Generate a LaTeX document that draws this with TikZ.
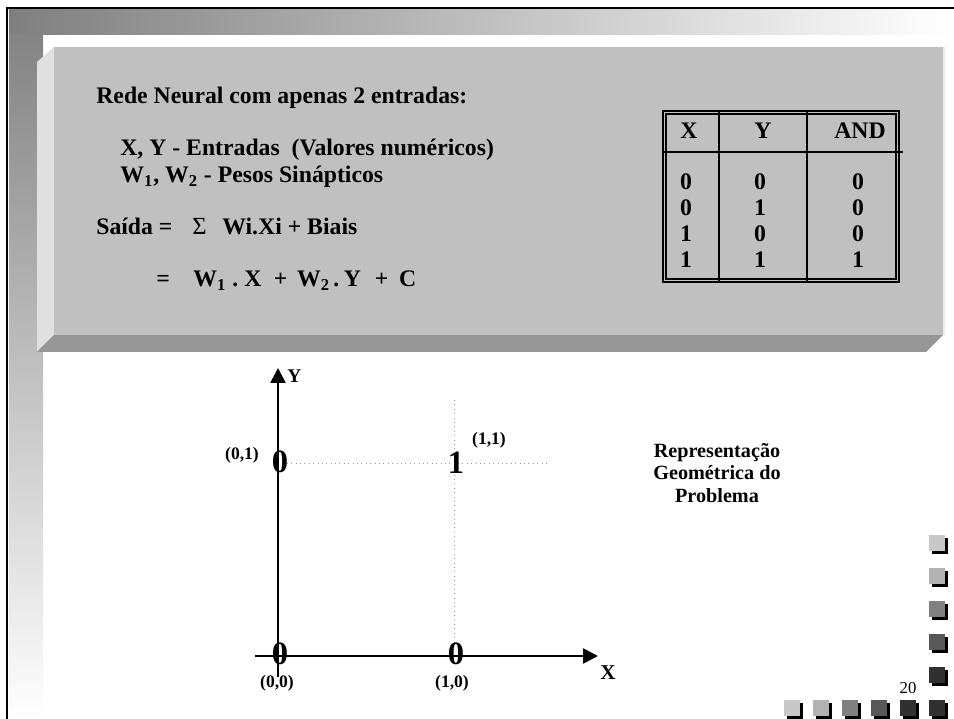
\documentclass[tikz,border=0pt]{standalone}
\usepackage{fontspec}
\setmainfont{Liberation Serif}
\usepackage{tikz}
\usetikzlibrary{arrows.meta,shadows}
\definecolor{facegray}{HTML}{C0C0C0}
\definecolor{bevellight}{HTML}{E0E0E0}
\definecolor{beveldark}{HTML}{969696}
\definecolor{bandgray}{HTML}{7F7F7F}
\definecolor{dotgray}{HTML}{9A9A9A}
\definecolor{tileA}{HTML}{C8C8C8}
\definecolor{tileB}{HTML}{B2B2B2}
\definecolor{tileC}{HTML}{808080}
\definecolor{tileD}{HTML}{585858}
\definecolor{tileE}{HTML}{303030}

\begin{document}
\begin{tikzpicture}[x=0.02cm,y=-0.02cm,
  txt/.style={font=\fontsize{13.5}{15}\selectfont\bfseries,inner sep=0pt,anchor=base west},
  tab/.style={font=\fontsize{13.5}{15}\selectfont\bfseries,inner sep=0pt,anchor=base},
  coordlbl/.style={font=\fontsize{10}{12}\selectfont\bfseries,inner sep=0pt,anchor=base},
  bigdigit/.style={font=\fontsize{18.5}{20}\selectfont\bfseries,inner sep=0pt,anchor=base},
  axisline/.style={line width=1.5pt,-{Triangle[length=8.5pt,width=8.5pt]}},
  guide/.style={dotgray,dotted,line width=0.5pt},
  tile/.style={fill=#1,inner sep=0pt,minimum size=9pt,
    general shadow={fill=black,shadow xshift=1.7pt,shadow yshift=-1.7pt}}]
  \useasboundingbox (0,0) rectangle (954,719);
  \fill[white] (0,0) rectangle (954,719);
  \shade[top color=bandgray,bottom color=white] (9,10) rectangle (43,719);
  \shade[left color=bandgray,right color=white] (9,10) rectangle (954,35);
  \draw[line width=1.1pt] (7,719) -- (7,8) -- (954,8);

  \fill[bevellight] (37,62) -- (54,47) -- (54,335) -- (37,352) -- cycle;
  \fill[beveldark] (37,352) -- (54,335) -- (943,335) -- (926,352) -- cycle;
  \fill[facegray] (54,47) rectangle (943,335);
  \draw[white!92!black,line width=1pt] (944,47) -- (944,335);

  \node[txt] (title) at (96,104) {Rede Neural com apenas 2 entradas:};
  \node[txt] (inputs) at (120,156) {X, Y - Entradas\ \ (Valores numéricos)};
  \node[txt] (weights) at (120,183) {W\textsubscript{1}, W\textsubscript{2} - Pesos Sinápticos};
  \node[txt] (saida) at (96,235) {Saída =};
  \node[txt,font=\fontsize{14}{15}\selectfont] (sigma) at (192,235) {Σ};
  \node[txt] (sum) at (222,235) {Wi.Xi + Biais};
  \node[txt] (eq) at (156,287) {=};
  \node[txt] (expr) at (193,287) {W\textsubscript{1}\hspace{3.5pt}.\hspace{3.5pt}X\hspace{7pt}+\hspace{5.5pt}W\textsubscript{2}\hspace{2pt}.\hspace{2.5pt}Y\hspace{8pt}+\hspace{6pt}C};

  \draw[line width=0.6pt] (663,111) rectangle (899,282);
  \draw[line width=0.6pt] (666,114) rectangle (896,279);
  \draw[line width=1pt] (719,111) -- (719,282);
  \draw[line width=1pt] (807,111) -- (807,282);
  \draw[line width=1pt] (663,152) -- (903,152);
  \node[tab] (hx) at (689,139) {X};
  \node[tab] (hy) at (763,139) {Y};
  \node[tab] (hand) at (860,139) {AND};
  \node[tab] (x1) at (686,190) {0};
  \node[tab] (y1) at (760,190) {0};
  \node[tab] (a1) at (858,190) {0};
  \node[tab] (x2) at (686,216) {0};
  \node[tab] (y2) at (760,216) {1};
  \node[tab] (a2) at (858,216) {0};
  \node[tab] (x3) at (686,242) {1};
  \node[tab] (y3) at (760,242) {0};
  \node[tab] (a3) at (858,242) {0};
  \node[tab] (x4) at (686,268) {1};
  \node[tab] (y4) at (760,268) {1};
  \node[tab] (a4) at (858,268) {1};

  \coordinate (hl) at (278,463);
  \coordinate (hr) at (550,463);
  \coordinate (vt) at (454,400);
  \coordinate (vb) at (454,645);
  \draw[guide] (hl) -- (hr);
  \draw[guide] (vt) -- (vb);
  \coordinate (yfoot) at (278,677);
  \coordinate (ytip) at (278,368);
  \coordinate (xfoot) at (255,656);
  \coordinate (xtip) at (598,656);
  \draw[axisline] (yfoot) -- (ytip);
  \draw[axisline] (xfoot) -- (xtip);
  \node[font=\fontsize{11}{12}\selectfont\bfseries,inner sep=0pt,anchor=base west] (ylbl) at (287,383) {Y};
  \node[font=\fontsize{12}{13}\selectfont\bfseries,inner sep=0pt,anchor=base west] (xlbl) at (600,679) {X};

  \node[bigdigit] (p01) at (280,473) {0};
  \node[bigdigit] (p11) at (456,474) {1};
  \node[bigdigit] (p00) at (280,664) {0};
  \node[bigdigit] (p10) at (456,664) {0};
  \node[coordlbl] (l01) at (242,460) {(0,1)};
  \node[coordlbl] (l11) at (489,445) {(1,1)};
  \node[coordlbl] (l00) at (277,687) {(0,0)};
  \node[coordlbl] (l10) at (452,687) {(1,0)};

  \node[font=\fontsize{11.5}{12.8}\selectfont\bfseries,align=center,inner sep=0pt,anchor=north] (caption) at (717,443) {Representação\\Geométrica do\\Problema};
  \node[font=\fontsize{9.5}{10}\selectfont,inner sep=0pt,anchor=base] (pgnum) at (908,693) {20};

  \node[tile=tileA] (c1) at (937,543) {};
  \node[tile=tileB] (c2) at (937,576) {};
  \node[tile=tileC] (c3) at (937,609) {};
  \node[tile=tileD] (c4) at (937,642) {};
  \node[tile=tileE] (c5) at (937,675) {};
  \node[tile=tileE] (r6) at (937,708) {};
  \node[tile=tileE] (r5) at (908,708) {};
  \node[tile=tileD] (r4) at (879,708) {};
  \node[tile=tileC] (r3) at (850,708) {};
  \node[tile=tileB] (r2) at (821,708) {};
  \node[tile=tileA] (r1) at (792,708) {};
\end{tikzpicture}
\end{document}
